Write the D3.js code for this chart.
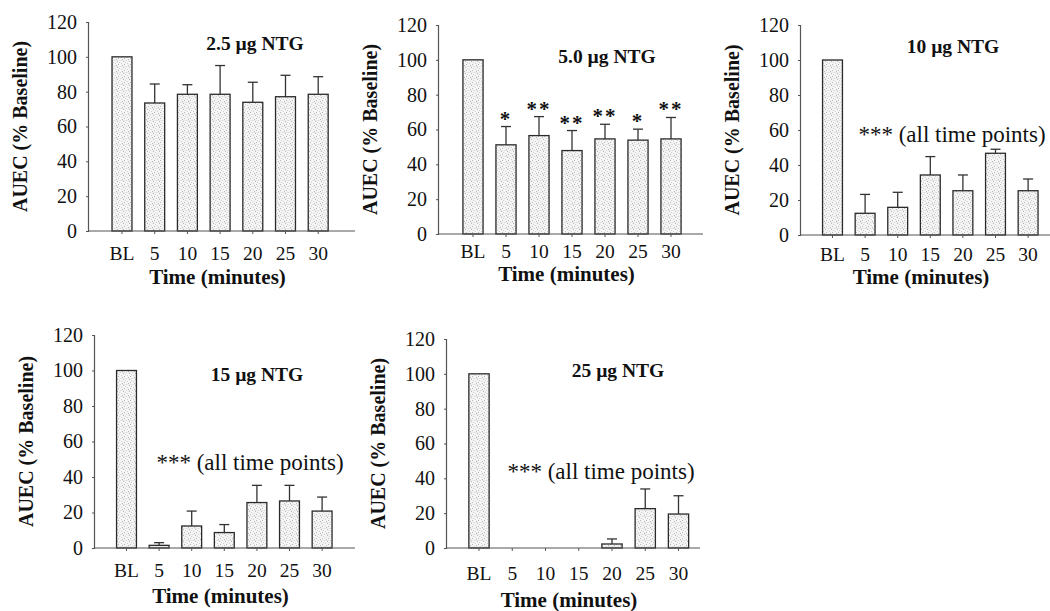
<!DOCTYPE html>
<html>
<head>
<meta charset="utf-8">
<script src="https://cdn.jsdelivr.net/npm/d3@7"></script>
<style>
  body { margin: 0; background: #fff; }
  svg { display: block; }
</style>
</head>
<body>
<div id="chart"></div>
<script>
// Time points (x categories) shared by all panels
const categories = ['BL', '5', '10', '15', '20', '25', '30'];
const yTicks = [0, 20, 40, 60, 80, 100, 120];

// Panel titles
const titles = ['2.5 \u00b5g NTG', '5.0 \u00b5g NTG', '10 \u00b5g NTG', '15 \u00b5g NTG', '25 \u00b5g NTG'];

// Mean AUEC (% baseline) per dose
const means25 = [100, 73.5, 78.5, 78.5, 73.9, 77.1, 78.5];
const means50 = [100, 51.2, 56.5, 47.9, 54.6, 53.9, 54.6];
const means10 = [100, 12.4, 15.8, 34.3, 25.3, 46.7, 25.3];
const means15 = [100, 1.5, 12.4, 8.7, 25.6, 26.5, 20.8];
const means250 = [100, 0, 0, 0, 2.3, 22.6, 19.5];

// Upper error (SEM) per dose
const err25 = [0, 10.9, 5.5, 16.5, 11.5, 12.3, 10.1];
const err50 = [0, 10.5, 10.9, 11.5, 8.4, 6.3, 12.3];
const err10 = [0, 10.8, 8.6, 10.5, 9.0, 2.3, 6.7];
const err15 = [0, 1.5, 8.4, 4.5, 9.7, 8.8, 7.9];
const err250 = [0, 0, 0, 0, 2.9, 11.3, 10.5];

// Significance markers
const stars50 = ['', '*', '**', '**', '**', '*', '**'];
const noteText = '*** (all time points)';

const FONT = '"Liberation Serif", "Times New Roman", serif';

// Panel placement on the page (layout only)
const panels = [
  { title: titles[0], means: means25, errs: err25, stars: null, note: false,
    axisX: 88, y0: 231, y120: 22, c0: 122, step: 32.7, axisEnd: 355,
    titleX: 255, titleY: 50, tickDy: 29, labelDy: 53 },
  { title: titles[1], means: means50, errs: err50, stars: stars50, note: false,
    axisX: 438, y0: 234, y120: 25, c0: 473, step: 33, axisEnd: 703,
    titleX: 607, titleY: 63, tickDy: 24, labelDy: 47 },
  { title: titles[2], means: means10, errs: err10, stars: null, note: true,
    axisX: 800, y0: 235, y120: 25, c0: 832.5, step: 32.6, axisEnd: 1050,
    titleX: 953, titleY: 53, tickDy: 26, labelDy: 49, noteX: 952, noteY: 142 },
  { title: titles[3], means: means15, errs: err15, stars: null, note: true,
    axisX: 94, y0: 548, y120: 335, c0: 126.5, step: 32.6, axisEnd: 355,
    titleX: 257, titleY: 381, tickDy: 29, labelDy: 55, noteX: 250, noteY: 470 },
  { title: titles[4], means: means250, errs: err250, stars: null, note: true,
    axisX: 446, y0: 548, y120: 339, c0: 479, step: 33.25, axisEnd: 700,
    titleX: 618, titleY: 377, tickDy: 32, labelDy: 59, noteX: 601, noteY: 479 }
];

const width = 1050, height = 611;

const svg = d3.select('#chart').append('svg')
  .attr('width', width)
  .attr('height', height)
  .attr('font-family', FONT);

// stippled grey fill like the printed bars
const defs = svg.append('defs');
const pat = defs.append('pattern')
  .attr('id', 'stipple')
  .attr('patternUnits', 'userSpaceOnUse')
  .attr('width', 6).attr('height', 6);
pat.append('rect').attr('width', 6).attr('height', 6).attr('fill', '#f5f5f5');
[[0, 0], [3, 1], [1, 3], [4, 4], [5, 2], [2, 5]].forEach(([px, py], i) => {
  pat.append('rect').attr('x', px).attr('y', py).attr('width', 1).attr('height', 1)
    .attr('fill', i % 2 ? '#b8b8b8' : '#d0d0d0');
});
pat.append('line').attr('x1', 0).attr('y1', 0).attr('x2', 6).attr('y2', 0)
  .attr('stroke', '#e2e2e2').attr('stroke-width', 1);

panels.forEach(p => {
  const g = svg.append('g');

  const x = d3.scaleBand()
    .domain(categories)
    .range([p.c0 - p.step / 2, p.c0 + p.step * 6.5])
    .paddingInner(0.39)
    .paddingOuter(0.195);

  const y = d3.scaleLinear()
    .domain([0, 120])
    .range([p.y0, p.y120]);

  const cx = d => x(d) + x.bandwidth() / 2;

  const rows = categories.map((c, i) => ({ cat: c, mean: p.means[i], err: p.errs[i], star: p.stars ? p.stars[i] : '' }));

  // bars (zero values are not drawn)
  g.selectAll('rect.bar')
    .data(rows.filter(d => d.mean > 0))
    .join('rect')
    .attr('class', 'bar')
    .attr('x', d => x(d.cat))
    .attr('y', d => y(d.mean))
    .attr('width', x.bandwidth())
    .attr('height', d => y(0) - y(d.mean))
    .attr('fill', 'url(#stipple)')
    .attr('stroke', '#2a2a2a')
    .attr('stroke-width', 1.3);

  // upper error bars
  const eb = g.selectAll('g.err')
    .data(rows.filter(d => d.err > 0))
    .join('g')
    .attr('class', 'err');
  eb.append('line')
    .attr('x1', d => cx(d.cat))
    .attr('x2', d => cx(d.cat))
    .attr('y1', d => y(d.mean))
    .attr('y2', d => y(d.mean + d.err))
    .attr('stroke', '#333').attr('stroke-width', 1.3);
  eb.append('line')
    .attr('x1', d => cx(d.cat) - 5)
    .attr('x2', d => cx(d.cat) + 5)
    .attr('y1', d => y(d.mean + d.err))
    .attr('y2', d => y(d.mean + d.err))
    .attr('stroke', '#333').attr('stroke-width', 1.3);

  // significance stars
  if (p.stars) {
    g.selectAll('text.star')
      .data(rows.filter(d => d.star))
      .join('text')
      .attr('class', 'star')
      .attr('x', d => cx(d.cat))
      .attr('y', d => y(d.mean + d.err) - 1)
      .attr('text-anchor', 'middle')
      .attr('font-family', FONT)
      .attr('font-size', 21)
      .attr('font-weight', 'bold')
      .attr('letter-spacing', 2)
      .attr('fill', '#111')
      .text(d => d.star);
  }

  // x axis line and ticks
  g.append('line')
    .attr('x1', p.axisX).attr('x2', p.axisEnd)
    .attr('y1', y(0)).attr('y2', y(0))
    .attr('stroke', '#555').attr('stroke-width', 1.2);
  g.selectAll('line.xtick')
    .data(categories)
    .join('line')
    .attr('class', 'xtick')
    .attr('x1', cx).attr('x2', cx)
    .attr('y1', y(0)).attr('y2', y(0) + 3)
    .attr('stroke', '#555');
  g.selectAll('text.xlab')
    .data(categories)
    .join('text')
    .attr('class', 'xlab')
    .attr('x', cx)
    .attr('y', y(0) + p.tickDy)
    .attr('text-anchor', 'middle')
    .attr('font-family', FONT)
    .attr('font-size', 19.5)
    .attr('fill', '#111')
    .text(d => d);

  // y axis
  const yAxis = g.append('g')
    .attr('transform', `translate(${p.axisX},0)`)
    .call(d3.axisLeft(y).tickValues(yTicks).tickSize(2).tickPadding(9));
  yAxis.attr('font-family', FONT);
  yAxis.select('.domain').attr('stroke', '#555').attr('stroke-width', 1.2);
  yAxis.selectAll('.tick line').attr('stroke', '#555');
  yAxis.selectAll('.tick text')
    .attr('font-family', FONT)
    .attr('font-size', 20)
    .attr('fill', '#111');

  // axis titles
  g.append('text')
    .attr('x', (p.axisX + p.axisEnd) / 2 - 4)
    .attr('y', y(0) + p.labelDy)
    .attr('text-anchor', 'middle')
    .attr('font-family', FONT)
    .attr('font-size', 21)
    .attr('font-weight', 'bold')
    .attr('fill', '#111')
    .text('Time (minutes)');

  g.append('text')
    .attr('transform', `translate(${p.axisX - 68},${(p.y0 + p.y120) / 2}) rotate(-90)`)
    .attr('text-anchor', 'middle')
    .attr('dominant-baseline', 'central')
    .attr('font-family', FONT)
    .attr('font-size', 20)
    .attr('font-weight', 'bold')
    .attr('fill', '#111')
    .text('AUEC (% Baseline)');

  // panel title
  g.append('text')
    .attr('x', p.titleX)
    .attr('y', p.titleY)
    .attr('text-anchor', 'middle')
    .attr('font-family', FONT)
    .attr('font-size', 19.5)
    .attr('font-weight', 'bold')
    .attr('fill', '#111')
    .text(p.title);

  if (p.note) {
    g.append('text')
      .attr('x', p.noteX)
      .attr('y', p.noteY)
      .attr('text-anchor', 'middle')
      .attr('font-family', FONT)
      .attr('font-size', 23)
      .attr('fill', '#111')
      .text(noteText);
  }
});
</script>
</body>
</html>
